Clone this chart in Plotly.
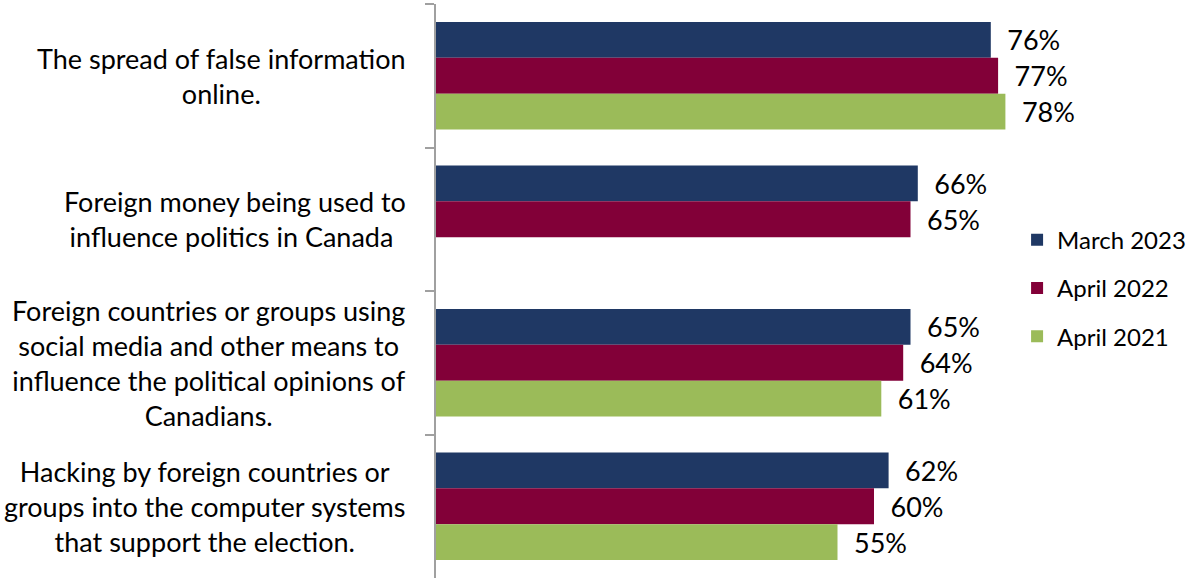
import plotly.graph_objects as go

categories = [
    "The spread of false information<br>online.",
    "Foreign money being used to<br>influence politics in Canada ",
    "Foreign countries or groups using<br>social media and other means to<br>influence the political opinions of<br>Canadians.",
    "Hacking by foreign countries or<br>groups into the computer systems<br>that support the election.",
]
cat_keys = ["c1", "c2", "c3", "c4"]
series_names = ["March 2023", "April 2022", "April 2021"]
march_2023 = [76, 66, 65, 62]
april_2022 = [77, 65, 64, 60]
april_2021 = [78, None, 61, 55]
colors = ["#1F3864", "#820038", "#9BBB59"]

FONT = "Lato"
FS = 27

fig = go.Figure()
for name, vals, col in zip(series_names, [march_2023, april_2022, april_2021], colors):
    fig.add_trace(go.Bar(
        y=cat_keys, x=vals, name=name, orientation="h",
        marker=dict(color=col, line=dict(width=0)),
        text=[None if v is None else f"{v}%" for v in vals],
        texttemplate="\u2002%{text}",
        textposition="outside", cliponaxis=False,
        textfont=dict(family=FONT, size=FS, color="black"),
        legendgroup=name,
    ))

for key, label in zip(cat_keys, categories):
    fig.add_annotation(
        x=0, xref="paper", y=key, yref="y", xanchor="right", yanchor="middle",
        xshift=-28, text=label, align="center", showarrow=False,
        font=dict(family=FONT, size=FS, color="black"),
    )

fig.update_layout(
    width=1188, height=581,
    margin=dict(l=436, r=168, t=4, b=3, autoexpand=False),
    paper_bgcolor="white", plot_bgcolor="white",
    barmode="group", bargap=0.25, bargroupgap=0,
    font=dict(family=FONT, size=FS, color="black"),
    showlegend=True,
    legend=dict(x=0.995, xanchor="left", y=0.505, yanchor="middle",
                traceorder="grouped", tracegroupgap=14,
                font=dict(family=FONT, size=24, color="black")),
    xaxis=dict(range=[0, 80], visible=False),
    yaxis=dict(autorange="reversed", showticklabels=False,
               tickson="boundaries", ticks="outside", ticklen=9,
               tickcolor="#A0A0A0", tickwidth=2,
               showline=True, linecolor="#A0A0A0", linewidth=2,
               showgrid=False, zeroline=False),
)

fig.write_html("out.html", config={"displayModeBar": False},
               post_script="document.body.style.margin='0px';")
